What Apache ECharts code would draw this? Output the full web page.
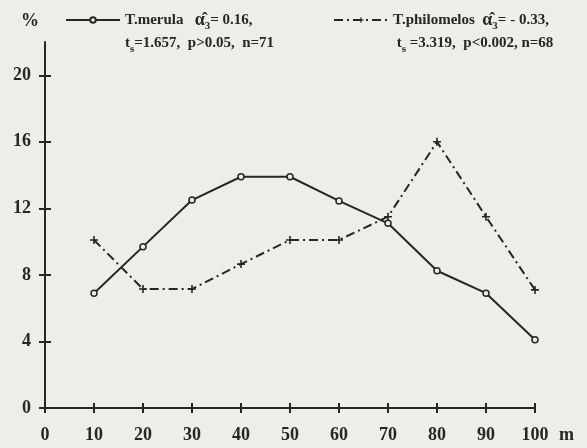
<!DOCTYPE html>
<html>
<head>
<meta charset="utf-8">
<script src="https://cdn.jsdelivr.net/npm/echarts@6/dist/echarts.min.js"></script>
<style>
  html, body { margin: 0; padding: 0; background: #eeede8; }
  #chart { width: 587px; height: 448px; }
</style>
</head>
<body>
<div id="chart"></div>
<script>
// distance (m) and share (%)
var distances = [10, 20, 30, 40, 50, 60, 70, 80, 90, 100];
var merula = [6.9, 9.7, 12.5, 13.9, 13.9, 12.45, 11.1, 8.25, 6.9, 4.1];
var philomelos = [10.1, 7.15, 7.15, 8.65, 10.1, 10.1, 11.5, 16.0, 11.5, 7.1];
var yLabels = [0, 4, 8, 12, 16, 20];
var yTicksIn = [4, 8, 12, 16, 20];

var ink = '#262626';
var bg = '#eeede8';
var serif = '"Liberation Serif", "DejaVu Serif", serif';
var plus = 'path://M4,0L6,0L6,4L10,4L10,6L6,6L6,10L4,10L4,6L0,6L0,4L4,4Z';

function pairs(values) {
    return distances.map(function (d, i) { return [d, values[i]]; });
}

var rich = {
    b: { fontFamily: serif, fontWeight: 'bold', fontSize: 15, color: ink, lineHeight: 23 },
    a: { fontFamily: serif, fontWeight: 'bold', fontSize: 18, color: ink, lineHeight: 23 },
    s: { fontFamily: serif, fontWeight: 'bold', fontSize: 11, color: ink, lineHeight: 23, verticalAlign: 'bottom' }
};

function legendBox(name, left, text) {
    return {
        data: [name],
        left: left,
        top: 6,
        itemWidth: 54,
        itemHeight: 7,
        selectedMode: false,
        formatter: function () { return text; },
        textStyle: { padding: [23, 0, 0, 0], rich: rich }
    };
}

var gridBox = { left: 45, right: 52, top: 42, bottom: 40 };

var chart = echarts.init(document.getElementById('chart'));
chart.setOption({
    backgroundColor: bg,
    animation: false,
    legend: [
        legendBox('T.merula', 60,
            '{b|T.merula   }{a|α̂}{s|3}{b|= 0.16,}\n{b|t}{s|s}{b|=1.657,  p>0.05,  n=71}'),
        legendBox('T.philomelos', 328,
            '{b|T.philomelos  }{a|α̂}{s|3}{b|= - 0.33,}\n{b| t}{s|s}{b| =3.319,  p<0.002, n=68}')
    ],
    grid: [gridBox, gridBox],
    xAxis: [{
        gridIndex: 0, type: 'value', min: 0, max: 100, interval: 10,
        name: 'm', nameLocation: 'end', nameGap: 24,
        nameTextStyle: { fontFamily: serif, fontWeight: 'bold', fontSize: 18, color: ink,
            verticalAlign: 'top', padding: [18, 0, 0, 0] },
        axisLine: { lineStyle: { color: ink, width: 2 } },
        axisTick: { inside: false, length: 5, lineStyle: { color: ink, width: 2 } },
        axisLabel: { margin: 18, fontFamily: serif, fontWeight: 'bold', fontSize: 18, color: ink },
        splitLine: { show: false }
    }, {
        gridIndex: 1, type: 'value', min: 0, max: 100, interval: 10,
        axisLine: { show: false },
        axisTick: { inside: true, length: 5, lineStyle: { color: ink, width: 2 } },
        axisLabel: { show: false },
        splitLine: { show: false }
    }],
    yAxis: [{
        gridIndex: 0, type: 'value', min: 0, max: 22,
        name: '%', nameLocation: 'end', nameGap: 12,
        nameTextStyle: { fontFamily: serif, fontWeight: 'bold', fontSize: 18, color: ink,
            align: 'right', padding: [0, 6, 0, 0] },
        axisLine: { lineStyle: { color: ink, width: 2 } },
        axisTick: { inside: false, length: 6, customValues: yLabels, lineStyle: { color: ink, width: 2 } },
        axisLabel: { margin: 14, customValues: yLabels, fontFamily: serif, fontWeight: 'bold', fontSize: 18, color: ink },
        splitLine: { show: false }
    }, {
        gridIndex: 1, type: 'value', min: 0, max: 22,
        axisLine: { show: false },
        axisTick: { inside: true, length: 6, customValues: yTicksIn, lineStyle: { color: ink, width: 2 } },
        axisLabel: { show: false },
        splitLine: { show: false }
    }],
    series: [{
        name: 'T.merula',
        type: 'line',
        xAxisIndex: 0, yAxisIndex: 0,
        data: pairs(merula),
        symbol: 'circle',
        symbolSize: 6,
        itemStyle: { color: bg, borderColor: ink, borderWidth: 1.5 },
        lineStyle: { color: ink, width: 2 }
    }, {
        name: 'T.philomelos',
        type: 'line',
        xAxisIndex: 0, yAxisIndex: 0,
        data: pairs(philomelos),
        symbol: plus,
        symbolSize: 8,
        itemStyle: { color: ink },
        lineStyle: { color: ink, width: 2, type: [9, 4, 2, 4] }
    }]
});
</script>
</body>
</html>
